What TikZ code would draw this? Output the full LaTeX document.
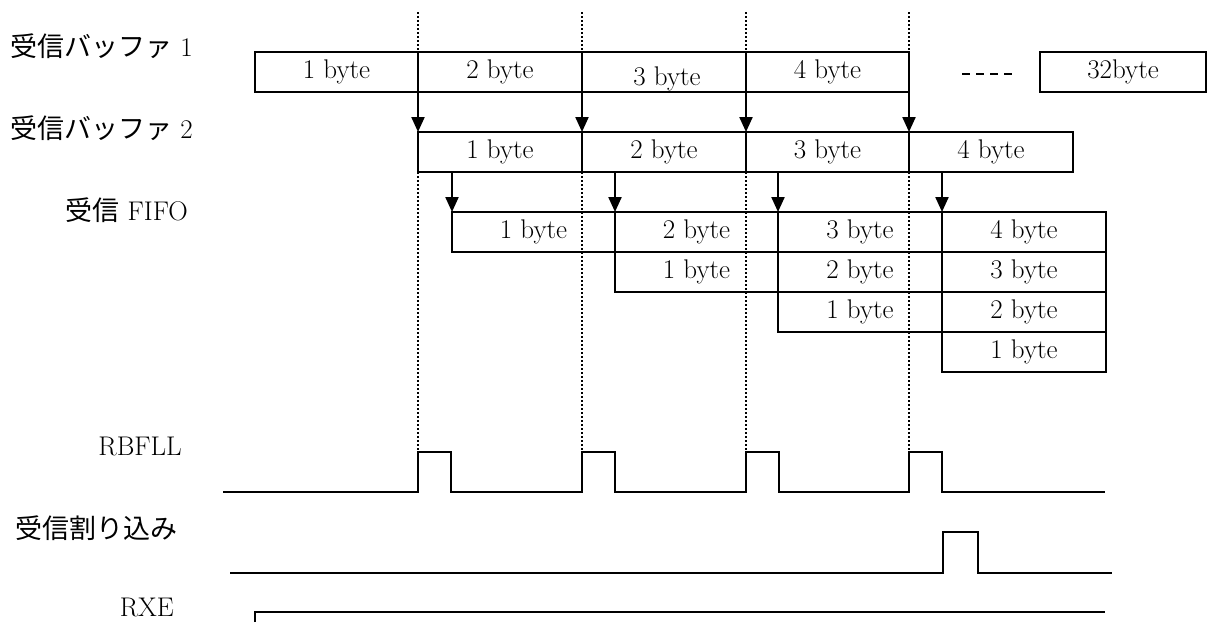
\documentclass[tikz,border=0pt]{standalone}
\usepackage{fontspec}
\newfontfamily\cjk{Noto Sans CJK JP}
\usetikzlibrary{arrows.meta}
\begin{document}
\begin{tikzpicture}[x=1pt,y=-1pt,
  every node/.style={font=\fontsize{27}{31}\selectfont},
  cell/.style={draw,line width=2.2pt,inner sep=0pt,outer sep=0pt,minimum height=40pt},
  w163/.style={cell,minimum width=163pt},
  w164/.style={cell,minimum width=164pt},
  arr/.style={line width=2.2pt,-{Triangle[length=15pt,width=13pt]}},
  dots/.style={line width=2pt,dash pattern=on 2pt off 2pt},
  wave/.style={line width=2.2pt},
  lbl/.style={inner sep=0pt}]
\useasboundingbox (0,0) rectangle (1213,622);
% dotted timing guides
\foreach \x/\n in {418/a,582/b,746/c,909/d}{
  \coordinate (top\n) at (\x,12);
  \coordinate (bot\n) at (\x,452);
  \draw[dots] (top\n) -- (bot\n);
}
% labels
\node[lbl,anchor=west] (L1) at (10,46) {{\cjk 受信バッファ} 1};
\node[lbl,anchor=west] (L2) at (10,128) {{\cjk 受信バッファ} 2};
\node[lbl,anchor=east] (L3) at (188,210) {{\cjk 受信} FIFO};
\node[lbl,anchor=east] (L4) at (182,446) {RBFLL};
\node[lbl,anchor=west] (L5) at (15,528) {\cjk 受信割り込み};
\node[lbl,anchor=east] (L6) at (174,607) {RXE};
% receive buffer 1
\node[w163] (a1) at (336.5,72) {1 byte};
\node[w164] (a2) at (500,72) {2 byte};
\node[w164] (a3) at (664,72) {};
\node[lbl] (t3) at (667,79) {3 byte};
\node[w163] (a4) at (827.5,72) {4 byte};
\coordinate (dl) at (962,74);
\coordinate (dr) at (1012,74);
\draw[line width=1.6pt,dash pattern=on 8pt off 6pt] (dl) -- (dr);
\node[cell,minimum width=166pt] (a32) at (1123,72) {32byte};
% receive buffer 2
\node[w164] (b1) at (500,152) {1 byte};
\node[w164] (b2) at (664,152) {2 byte};
\node[w163] (b3) at (827.5,152) {3 byte};
\node[w164] (b4) at (991,152) {4 byte};
% FIFO
\node[w163] (f11) at (533.5,232) {1 byte};
\node[w163] (f12) at (696.5,232) {2 byte};
\node[w164] (f13) at (860,232) {3 byte};
\node[w164] (f14) at (1024,232) {4 byte};
\node[w163] (f22) at (696.5,272) {1 byte};
\node[w164] (f23) at (860,272) {2 byte};
\node[w164] (f24) at (1024,272) {3 byte};
\node[w164] (f33) at (860,312) {1 byte};
\node[w164] (f34) at (1024,312) {2 byte};
\node[w164] (f44) at (1024,352) {1 byte};
% arrows buffer1 -> buffer2
\draw[arr] (a1.south east) -- (b1.north west);
\draw[arr] (a2.south east) -- (b2.north west);
\draw[arr] (a3.south east) -- (b3.north west);
\draw[arr] (a4.south east) -- (b4.north west);
% arrows buffer2 -> FIFO
\draw[arr] (f11.north west |- b1.south) -- (f11.north west);
\draw[arr] (f12.north west |- b2.south) -- (f12.north west);
\draw[arr] (f13.north west |- b3.south) -- (f13.north west);
\draw[arr] (f14.north west |- b4.south) -- (f14.north west);
% RBFLL waveform
\draw[wave] (223,492) -- (418,492) -- (418,452) -- (451,452) -- (451,492)
  -- (582,492) -- (582,452) -- (615,452) -- (615,492)
  -- (746,492) -- (746,452) -- (779,452) -- (779,492)
  -- (909,492) -- (909,452) -- (942,452) -- (942,492) -- (1105,492);
% interrupt waveform
\draw[wave] (230,573) -- (943,573) -- (943,532) -- (978,532) -- (978,573) -- (1112,573);
% RXE
\draw[wave] (255,622) -- (255,612) -- (1105,612);
\end{tikzpicture}
\end{document}
